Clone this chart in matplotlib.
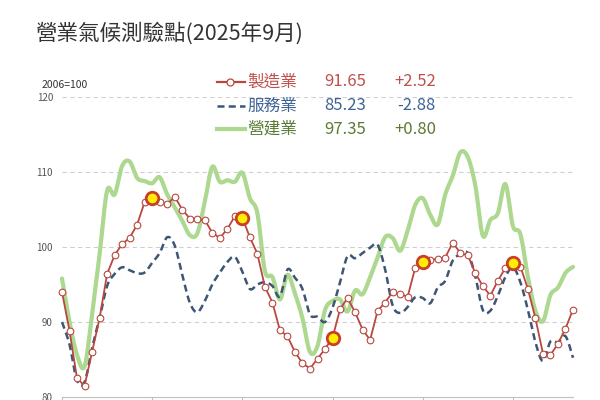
import numpy as np
import matplotlib
matplotlib.use("Agg")
import matplotlib.pyplot as plt
from matplotlib.lines import Line2D

plt.rcParams['font.family'] = ['Noto Sans CJK TC', 'DejaVu Sans']

# ---- data (monthly, Jan 2020 .. Sep 2025) ----
months = np.arange(69)
year_ticks = [0, 12, 24, 36, 48, 60]
year_labels = ["2020", "2021", "2022", "2023", "2024", "2025"]
highlight = [12, 24, 36, 48, 60]

manufacturing = [94.0, 88.8, 82.5, 81.5, 86.0, 90.5, 96.4, 98.9, 100.4, 101.2, 103.0, 106.0,
                 106.5, 106.0, 105.7, 106.7, 105.0, 103.8, 103.7, 103.6, 101.9, 101.2, 102.4, 104.1,
                 103.9, 101.3, 99.1, 94.7, 92.6, 88.9, 88.1, 86.0, 84.5, 83.8, 85.1, 86.4,
                 87.9, 91.7, 93.2, 91.3, 89.0, 87.6, 91.5, 92.6, 94.0, 93.7, 93.4, 97.2,
                 98.0, 98.3, 98.4, 98.6, 100.6, 99.2, 98.9, 96.5, 94.8, 93.5, 95.5, 97.2,
                 97.9, 97.4, 94.4, 90.5, 85.8, 85.6, 87.1, 89.13, 91.65]

services = [90.0, 87.0, 82.2, 82.0, 86.5, 90.5, 94.8, 96.4, 97.3, 96.9, 96.5, 96.6,
            97.9, 99.2, 101.3, 100.2, 96.3, 92.6, 91.3, 92.8, 95.0, 96.6, 98.0, 98.7,
            96.7, 94.4, 95.0, 95.3, 94.8, 93.4, 97.0, 95.9, 94.4, 91.0, 90.7, 90.0,
            91.9, 95.3, 98.8, 98.5, 99.2, 99.9, 100.3, 97.0, 92.2, 91.2, 92.0, 93.3,
            93.2, 92.5, 94.6, 95.5, 98.2, 99.0, 99.2, 96.1, 91.6, 91.5, 93.5, 96.0,
            97.3, 95.3, 91.6, 87.3, 84.8, 87.4, 87.3, 88.11, 85.23]

construction = [95.8, 90.0, 85.6, 84.1, 91.0, 99.0, 107.5, 107.0, 110.8, 111.4, 109.2, 108.8,
                108.5, 109.3, 107.0, 105.3, 103.5, 101.6, 101.8, 106.0, 110.7, 108.7, 108.9, 108.7,
                109.9, 106.5, 104.5, 96.8, 96.0, 93.0, 96.3, 93.8, 90.5, 86.0, 86.8, 91.6,
                92.8, 93.0, 91.4, 94.2, 93.7, 96.0, 98.6, 101.3, 101.2, 99.5, 102.2, 105.6,
                106.5, 104.3, 103.0, 107.0, 109.5, 112.6, 112.0, 108.2, 101.5, 103.6, 104.5, 108.4,
                102.8, 101.7, 96.0, 91.5, 90.1, 93.6, 94.6, 96.55, 97.35]

names = ["製造業", "服務業", "營建業"]
latest = ["91.65", "85.23", "97.35"]
changes = ["+2.52", "-2.88", "+0.80"]

RED = "#b8483f"
BLUE = "#3d5675"
GREEN = "#acd890"


def smooth(x, y, n=12):
    x = np.asarray(x, float)
    y = np.asarray(y, float)
    px = np.concatenate([[x[0]], x, [x[-1]]])
    py = np.concatenate([[y[0]], y, [y[-1]]])
    xs, ys = [], []
    t = np.linspace(0, 1, n, endpoint=False)
    for i in range(1, len(px) - 2):
        p0, p1, p2, p3 = py[i - 1], py[i], py[i + 1], py[i + 2]
        q0, q1, q2, q3 = px[i - 1], px[i], px[i + 1], px[i + 2]
        for arr, a0, a1, a2, a3 in ((ys, p0, p1, p2, p3), (xs, q0, q1, q2, q3)):
            arr.extend(0.5 * ((2 * a1) + (-a0 + a2) * t + (2 * a0 - 5 * a1 + 4 * a2 - a3) * t ** 2
                              + (-a0 + 3 * a1 - 3 * a2 + a3) * t ** 3))
    xs.append(x[-1])
    ys.append(y[-1])
    return np.array(xs), np.array(ys)


fig = plt.figure(figsize=(6, 4), dpi=100)
ax = fig.add_axes([62 / 600, 3 / 400, 511 / 600, 300 / 400])
ax.set_xlim(0, 68)
ax.set_ylim(80, 120)

for v in [90, 100, 110, 120]:
    ax.axhline(v, color="#d0d0d0", lw=0.8, ls=(0, (4, 3)), zorder=0)

gx, gy = smooth(months, construction)
ax.plot(gx, gy, color=GREEN, lw=3.0, solid_capstyle="round", zorder=2, clip_on=False)
bx, by = smooth(months, services)
ax.plot(bx, by, color=BLUE, lw=1.8, ls=(0, (2.8, 1.7)), zorder=3, clip_on=False)
ax.plot(months, manufacturing, color=RED, lw=1.3, marker="o", ms=4.8, mfc="white",
        mec=RED, mew=0.8, zorder=4, clip_on=False)
hl = np.array(highlight)
ax.plot(hl, np.array(manufacturing)[hl], ls="none", marker="o", ms=9, mfc="#ffee00",
        mec="#c8402a", mew=2.0, zorder=5, clip_on=False)

for s in ["left", "right", "top"]:
    ax.spines[s].set_visible(False)
ax.spines["bottom"].set_color("#bfbfbf")
ax.spines["bottom"].set_linewidth(0.8)
ax.set_xticks(year_ticks)
ax.set_xticklabels(["" for _ in year_labels])
ax.tick_params(axis="x", length=3, color="#bfbfbf", width=0.8)
ax.set_yticks([80, 90, 100, 110, 120])
ax.set_yticklabels(["80", "90", "100", "110", "120"])
ax.tick_params(axis="y", length=0, pad=6.5, labelsize=7, labelcolor="#555555")

# title and unit
fig.text(35 / 600, 1 - 34 / 400, "營業氣候測驗點(2025年9月)", fontsize=15.5, color="#333333",
         va="center", ha="left")
fig.text(42 / 600, 1 - 85 / 400, "2006=100", fontsize=7.5, color="#333333", va="center", ha="left")

# custom legend
rows_y = [82, 106, 129]
text_cols = ["#c0504d", "#3e6496", "#5a7a35"]
for i in range(3):
    yf = 1 - rows_y[i] / 400
    if i == 0:
        fig.add_artist(Line2D([217 / 600, 245 / 600], [yf, yf], color=RED, lw=1.6,
                              transform=fig.transFigure))
        fig.add_artist(Line2D([230 / 600], [yf], color=RED, marker="o", ms=5, mfc="white",
                              mec=RED, mew=0.9, transform=fig.transFigure))
    elif i == 1:
        fig.add_artist(Line2D([217 / 600, 245 / 600], [yf, yf], color=BLUE, lw=1.8,
                              ls=(0, (2.8, 1.7)), transform=fig.transFigure))
    else:
        fig.add_artist(Line2D([217 / 600, 245 / 600], [yf, yf], color=GREEN, lw=3.0,
                              transform=fig.transFigure))
    fig.text(247 / 600, yf, names[i], fontsize=12, color=text_cols[i], va="center", ha="left")
    fig.text(324 / 600, yf, latest[i], fontsize=12, color=text_cols[i], va="center", ha="left")
    fig.text(436 / 600, yf, changes[i], fontsize=12, color=text_cols[i], va="center", ha="right")

fig.savefig("out.png", dpi=100)
